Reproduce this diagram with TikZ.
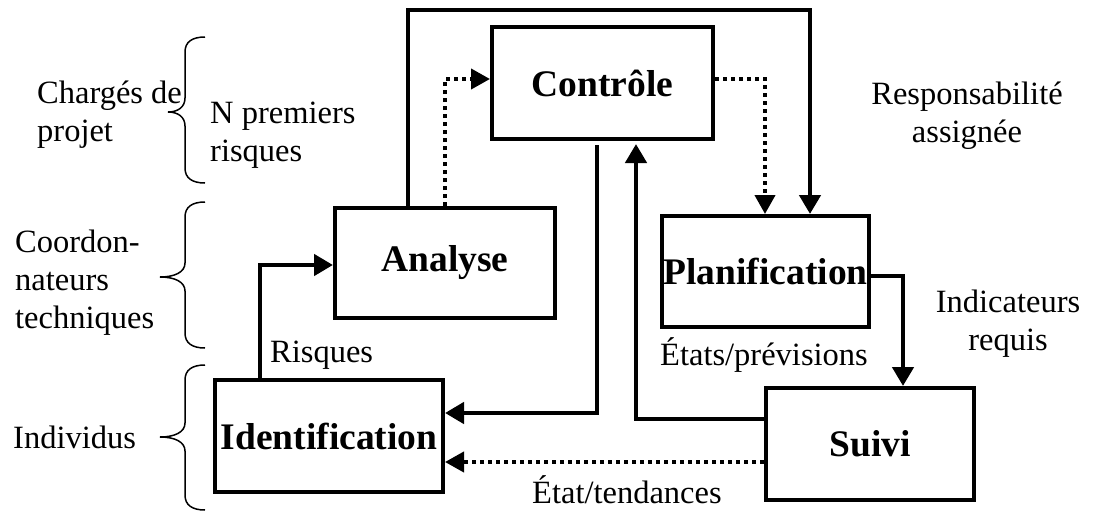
\documentclass[tikz,border=0pt]{standalone}
\usepackage{fontspec}
\setmainfont{Liberation Serif}
\usetikzlibrary{arrows.meta}

\tikzset{
  stage/.style={draw, line width=4pt, inner sep=0pt,
    font=\fontsize{37.5}{42}\selectfont\bfseries},
  lbl/.style={inner sep=0pt, font=\fontsize{32.5}{38}\selectfont},
  wire/.style={line width=4.5pt, -{Triangle[width=21pt,length=19pt]}},
  dotwire/.style={line width=4pt, dash pattern=on 4pt off 4pt,
    -{Triangle[width=20pt,length=19pt]}},
  curly/.style={line width=1.5pt},
}

\begin{document}
\begin{tikzpicture}[x=1pt,y=-1pt]
\useasboundingbox (0,0) rectangle (1109,512);

% process stages
\node[stage, minimum width=221pt, minimum height=112pt] (ct) at (602.5,83) {Contrôle};
\node[stage, minimum width=220pt, minimum height=110pt] (an) at (445,263) {Analyse};
\node[stage, minimum width=207pt, minimum height=111pt] (pl) at (765.5,271.5) {Planification};
\node[stage, minimum width=228pt, minimum height=112pt] (id) at (329,436) {Identification};
\node[stage, minimum width=208pt, minimum height=112pt] (su) at (870,444) {Suivi};

% bend points of the connectors
\coordinate (topL) at (408,10);
\coordinate (topR) at (810,10);
\coordinate (d1) at (445,79);
\coordinate (d2) at (765,79);
\coordinate (c1) at (597,413);
\coordinate (c2) at (636,419);
\coordinate (p1) at (903,276);
\coordinate (s1) at (600,462);
\coordinate (r1) at (260,265);

% connectors
\draw[wire] (an.north -| topL) -- (topL) -- (topR) -- (pl.north -| topR);
\draw[dotwire] (an.north -| d1) -- (d1) -- (ct.west |- d1);
\draw[dotwire] (ct.east |- d2) -- (d2) -- (pl.north -| d2);
\draw[wire, shorten <=4pt] (ct.south -| c1) -- (c1) -- (id.east |- c1);
\draw[wire, shorten >=3pt] (su.west |- c2) -- (c2) -- (ct.south -| c2);
\draw[wire] (pl.east |- p1) -- (p1) -- (su.north -| p1);
\draw[dotwire] (su.west |- s1) -- (id.east |- s1);
\draw[wire] (id.north -| r1) -- (r1) -- (an.west |- r1);

% connector labels (multi-line ones are placed by their last baseline)
\node[lbl, anchor=base west] (lrisq) at (270,362) {Risques};
\node[lbl, anchor=base west] (letats) at (660,365) {États/prévisions};
\node[lbl, anchor=base west] (letat) at (532,503) {État/tendances};
\node[lbl, anchor=base west, align=left] (lnprem) at (210,161) {N premiers\\risques};
\node[lbl, anchor=base, align=center] (lresp) at (967,142) {Responsabilité\\assignée};
\node[lbl, anchor=base, align=center] (lind) at (1008,350) {Indicateurs\\requis};

% actor levels with their braces
\node[lbl, anchor=base west, align=left] (lcharg) at (37,141) {Chargés de\\projet};
\node[lbl, anchor=base west, align=left] (lcoord) at (15,328) {Coordon-\\nateurs\\techniques};
\node[lbl, anchor=base west] (lindiv) at (13,448) {Individus};

\draw[curly] (205,37) .. controls (192,37) and (185,42) .. (185,52) -- (185,98)
  .. controls (185,107) and (178,112) .. (168,112)
  .. controls (178,112) and (185,117) .. (185,126) -- (185,168)
  .. controls (185,178) and (192,183) .. (205,183);
\draw[curly] (205,202) .. controls (192,202) and (185,207) .. (185,217) -- (185,263)
  .. controls (185,272) and (175,277) .. (160,277)
  .. controls (175,277) and (185,282) .. (185,291) -- (185,333)
  .. controls (185,343) and (192,348) .. (205,348);
\draw[curly] (205,365) .. controls (192,365) and (185,370) .. (185,380) -- (185,423)
  .. controls (185,432) and (175,437) .. (160,437)
  .. controls (175,437) and (185,442) .. (185,451) -- (185,495)
  .. controls (185,505) and (192,510) .. (205,510);
\end{tikzpicture}
\end{document}
